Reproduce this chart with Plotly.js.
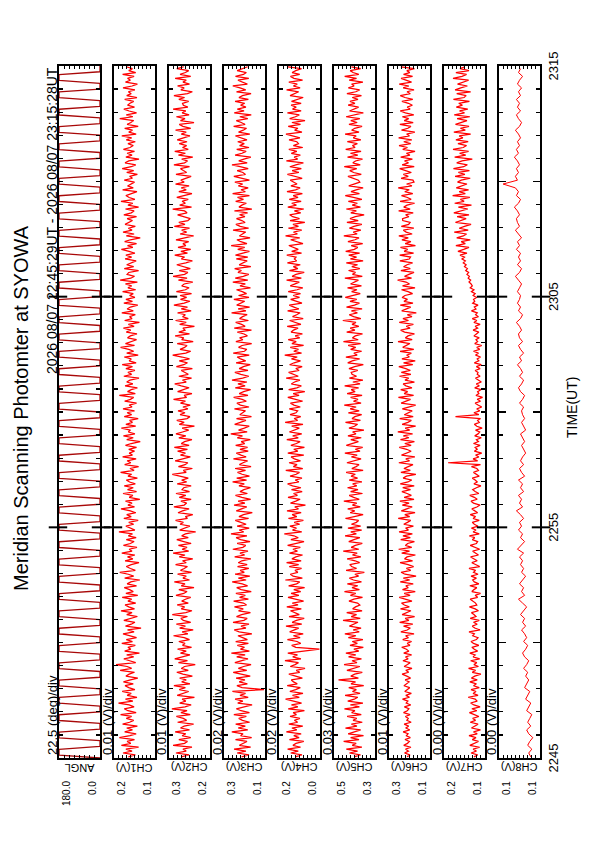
<!DOCTYPE html>
<html><head><meta charset="utf-8">
<script src="https://cdn.plot.ly/plotly-3.0.1.min.js"></script>
<style>
html,body{margin:0;padding:0;width:595px;height:842px;overflow:hidden;background:#fff;}
#wrap{position:absolute;left:0;top:0;width:595px;height:842px;overflow:hidden;}
#chart{position:absolute;left:0;top:0;width:842px;height:595px;transform-origin:0 0;transform:translate(0px,842px) rotate(-90deg);}
</style></head><body><div id="wrap"><div id="chart"></div></div>
<script>
// ---------- data ----------
const channelNames = ['ANGL','CH1(V)','CH2(V)','CH3(V)','CH4(V)','CH5(V)','CH6(V)','CH7(V)','CH8(V)'];
const scaleLabels = ['22.5 (deg)/div','0.01 (V)/div','0.01 (V)/div','0.02 (V)/div','0.02 (V)/div','0.03 (V)/div','0.01 (V)/div','0.00 (V)/div','0.00 (V)/div'];
const topLabels = ['180.0','0.2','0.3','0.3','0.2','0.5','0.3','0.2','0.1'];
const bottomLabels = ['0.0','0.1','0.2','0.1','0.0','0.3','0.1','0.1','0.1'];
// axis ranges: ANGL in degrees, channels in mV
const rangeMin = [0, 100, 200, 100, 0, 300, 100, 100, 100];
const rangeMax = [180, 200, 300, 300, 200, 500, 300, 200, 140];
const divisions = [8, 10, 10, 10, 10, 10, 10, 10, 10];
const timeTickVals = [0, 5, 10, 15, 20, 25, 30];
const timeTickText = ['2245', '', '2255', '', '2305', '', '2315'];
const titleText = 'Meridian Scanning Photomter at SYOWA';
const periodText = '2026 08/07 22:45:29UT - 2026 08/07 23:15:28UT';
const timeAxisTitle = 'TIME(UT)';

// scan angle (deg), one sample every 7.5 s: quick sweep, then hold at the end of the scan
const angl = [
0,180,180,180,0,0,0,180,180,180,0,0,
0,180,180,180,0,0,0,180,180,180,0,0,
0,180,180,180,0,0,0,180,180,180,0,0,
0,180,180,180,0,0,0,180,180,180,0,0,
0,180,180,180,0,0,0,180,180,180,0,0,
0,180,180,180,0,0,0,180,180,180,0,0,
0,180,180,180,0,0,0,180,180,180,0,0,
0,180,180,180,0,0,0,180,180,180,0,0,
0,180,180,180,0,0,0,180,180,180,0,0,
0,180,180,180,0,0,0,180,180,180,0,0,
0,180,180,180,0,0,0,180,180,180,0,0,
0,180,180,180,0,0,0,180,180,180,0,0,
0,180,180,180,0,0,0,180,180,180,0,0,
0,180,180,180,0,0,0,180,180,180,0,0,
0,180,180,180,0,0,0,180,180,180,0,0,
0,180,180,180,0,0,0,180,180,180,0,0,
0,180,180,180,0,0,0,180,180,180,0,0,
0,180,180,180,0,0,0,180,180,180,0,0,
0,180,180,180,0,0,0,180,180,180,0,0,
0,180,180,180,0,0,0,180,180,180,0,0,0];

// photometer channels (mV), one sample every 5 s
const ch1 = [
165,148,178,156,171,140,182,159,168,150,187,161,146,174,155,169,143,179,162,152,
170,157,184,146,166,175,151,163,189,154,172,144,168,158,180,149,164,173,153,177,
160,142,171,163,150,185,157,168,195,147,162,176,152,169,138,174,159,166,148,181,
155,170,145,163,178,151,167,134,172,158,149,176,161,143,169,156,183,150,164,173,
147,166,157,180,142,171,153,162,175,145,168,159,137,174,152,165,186,148,160,170,
158,139,173,154,167,149,181,156,163,144,177,160,151,170,146,165,155,188,149,162,
171,152,164,141,176,158,169,147,160,183,150,166,156,172,137,163,154,178,145,167,
153,175,148,162,170,143,166,157,184,151,161,140,174,159,168,146,179,155,163,150,
164,145,172,158,136,169,153,177,149,165,160,182,147,171,155,162,141,175,157,168,
150,178,156,163,145,174,160,152,187,148,167,158,143,173,154,169,161,139,176,157,
166,149,171,155,180,146,163,158,175,141,169,152,164,184,150,172,157,145,167,160,
144,170,159,177,151,165,138,174,156,162,148,181,153,168,160,142,176,155,171,149,
162,153,179,147,166,157,172,143,185,159,150,168,164,140,175,152,169,158,146,173,
157,171,149,163,182,154,167,145,174,160,136,170,151,178,156,165,148,173,162,155,
168,145,176,158,151,172,140,166,154,183,149,163,171,157,144,179,153,167,160,150,
175,155,162,143,169,152,180,158,147,173,164,139,171,156,168,150,177,161,153,166,
148,170,157,181,146,164,155,174,141,168,159,152,186,154,170,145,163,176,150,167,
161,152,174,144,169,158,165,149,178,156,143,172,160,167,151,179,147,164,155,170];

const ch2 = [
270,251,283,258,266,244,290,262,255,276,247,268,259,285,250,272,263,240,279,257,
265,282,248,271,256,293,261,246,274,259,268,238,280,264,252,275,260,288,249,269,
258,274,243,266,281,253,270,262,236,277,255,286,264,249,272,258,279,245,267,261,
276,250,263,289,254,268,241,274,260,282,247,265,271,255,292,259,244,270,262,280,
253,269,260,247,283,264,256,276,239,270,261,287,250,266,258,279,245,272,263,255,
284,258,267,242,275,261,290,252,268,256,277,246,264,281,253,269,260,235,274,262,
249,273,265,284,255,260,242,278,267,251,288,263,257,271,246,275,259,283,250,268,
264,246,280,257,269,253,274,292,258,265,243,277,261,254,285,266,248,272,260,279,
255,287,251,270,262,244,276,259,283,267,252,268,238,275,263,281,256,249,273,261,
278,254,266,248,272,260,289,257,263,244,279,265,251,270,286,258,267,245,276,253,
261,270,243,282,264,255,275,250,268,291,259,247,273,262,256,280,241,269,264,285,
250,276,261,266,238,274,258,284,253,267,260,279,246,270,255,288,263,249,272,257,
273,245,282,260,251,269,263,242,277,256,290,262,254,275,248,266,281,259,243,270,
262,286,255,271,247,278,259,266,252,283,264,240,273,257,269,250,287,261,276,254,
248,267,279,256,262,291,245,274,260,268,253,281,265,244,276,258,270,251,284,263,
271,259,246,283,257,265,272,250,288,262,255,269,242,277,260,286,253,267,257,275,
256,280,264,249,270,258,284,247,266,275,239,272,261,282,251,268,259,290,254,265,
267,252,276,262,288,255,243,271,263,279,250,266,258,285,247,273,260,252,281,264];

const ch3 = [
214,178,236,193,251,170,225,202,188,244,165,219,207,262,184,231,196,243,175,210,
228,191,252,176,217,240,199,163,233,208,246,182,222,195,259,105,212,237,186,226,
198,241,172,215,255,189,230,204,168,247,211,183,238,197,264,176,220,200,235,181,
243,186,209,232,164,226,250,193,217,178,256,203,187,239,214,171,229,206,249,190,
205,253,181,224,196,242,167,216,238,185,211,260,192,230,174,246,201,221,179,234,
187,230,213,169,248,199,222,183,257,208,194,236,173,219,241,188,266,204,226,177,
236,192,218,245,180,227,205,162,240,215,189,251,198,231,170,213,244,186,222,203,
171,227,201,258,190,238,176,212,234,195,246,168,225,207,185,254,192,217,240,182,
222,185,243,199,216,172,235,210,267,187,229,201,177,248,214,193,239,166,223,206,
195,249,178,220,237,191,211,253,183,226,204,170,245,197,232,188,261,209,179,218,
247,183,226,205,172,241,194,219,236,177,255,200,189,229,212,165,242,208,224,186,
202,235,166,250,197,214,243,181,224,209,187,263,193,231,175,238,216,199,252,178,
229,190,211,239,171,222,196,257,184,245,206,179,232,215,248,169,226,203,187,240,
184,244,203,176,233,199,265,188,218,237,173,225,210,194,256,180,221,242,197,213,
239,198,224,185,249,164,227,213,191,243,205,234,176,258,196,217,182,230,209,247,
176,219,252,195,208,236,182,221,261,187,228,203,169,246,212,192,238,178,224,201,
233,188,215,244,174,229,206,190,253,197,216,240,184,223,167,250,202,235,193,219,
199,246,181,227,210,168,239,194,222,257,186,214,232,179,244,205,191,236,213,185];

const ch4 = [
121,88,143,106,158,95,132,117,79,149,102,128,92,164,113,137,84,152,109,125,
98,146,115,131,76,155,108,139,90,124,168,101,134,83,147,119,96,160,111,129,
140,86,127,152,99,116,73,145,122,105,171,93,133,110,157,87,3,118,138,94,
112,159,97,130,82,148,123,104,166,89,136,115,77,151,101,126,144,91,162,107,
135,80,120,156,103,141,94,128,75,153,114,99,169,86,131,145,108,122,90,150,
104,163,92,137,118,85,149,110,132,96,158,121,78,142,106,127,174,89,134,115,
147,99,126,81,154,113,136,92,161,105,123,71,144,118,97,156,110,129,87,139,
93,134,158,103,121,88,146,116,100,167,84,130,112,151,95,125,141,79,157,108,
128,76,142,115,97,162,106,133,89,149,120,101,138,83,170,109,126,94,146,117,
109,150,96,127,144,85,119,157,102,131,74,153,113,91,140,124,98,165,106,135,
153,102,118,87,148,126,95,139,111,172,90,128,105,145,80,137,116,155,99,121,
86,141,129,107,160,93,122,148,82,134,114,97,158,103,127,150,88,119,143,100,
131,95,155,112,84,145,124,101,163,91,136,117,77,149,108,130,96,159,114,125,
117,162,90,138,106,127,152,83,120,143,99,168,110,129,89,154,105,132,74,146,
100,133,148,94,125,79,157,115,138,92,150,107,131,86,161,119,97,142,112,128,
145,87,122,159,103,136,91,147,118,81,164,109,126,96,140,113,152,84,130,105,
113,151,98,132,166,88,124,108,155,95,137,73,148,120,101,159,92,134,116,141,
92,139,115,82,146,121,104,163,97,130,111,152,85,127,144,99,136,118,90,156];

const ch5 = [
402,371,425,385,440,364,411,392,453,378,419,356,431,396,370,444,388,415,362,407,
389,436,367,414,398,449,376,420,359,433,401,384,446,373,410,391,428,355,417,395,
478,381,418,399,362,437,405,374,451,388,412,366,429,394,442,379,403,357,422,386,
411,359,430,393,447,377,406,368,425,400,383,456,372,416,390,438,363,409,395,374,
385,427,403,361,420,394,449,376,412,384,435,366,405,425,380,398,352,441,390,414,
423,375,397,436,369,410,387,455,379,416,396,362,428,403,374,446,391,418,365,432,
370,415,391,380,444,401,358,421,399,433,372,410,389,452,377,404,426,361,419,383,
434,389,409,364,426,385,417,396,441,358,413,392,378,437,402,368,415,387,447,373,
396,360,440,404,381,418,367,432,393,409,354,427,400,385,444,371,412,398,365,430,
377,421,392,450,368,405,383,419,363,436,397,416,380,448,373,408,359,425,390,412,
416,384,427,399,357,433,411,375,442,387,403,365,419,394,431,370,454,382,410,396,
361,438,398,421,379,412,393,457,369,404,426,386,415,363,439,400,376,422,389,445,
408,372,414,388,434,366,419,397,381,447,362,410,395,429,374,413,385,440,358,420,
390,428,375,443,401,384,416,360,432,398,378,452,387,406,369,425,403,364,437,382,
422,396,353,418,391,440,371,411,386,430,364,405,445,376,417,392,358,428,400,374,
381,413,432,367,404,423,389,450,372,408,395,361,434,384,420,368,443,397,410,386,
435,369,406,392,446,378,414,399,363,427,387,418,374,441,393,357,424,405,380,431,
398,422,383,411,366,437,394,375,430,402,414,359,426,390,448,379,407,421,370,415];

const ch6 = [
212,198,224,205,219,193,228,210,201,222,196,215,207,231,199,217,204,226,192,213,
206,220,197,229,211,203,225,194,216,208,234,200,218,191,223,209,199,227,214,202,
221,195,213,236,204,218,188,226,210,197,232,207,219,190,228,203,215,238,198,211,
190,233,205,219,178,242,211,196,229,184,248,203,221,175,236,209,193,244,201,225,
239,188,214,250,197,226,172,234,206,218,182,245,199,230,168,222,241,194,215,180,
207,246,185,224,212,171,238,200,253,189,220,209,176,243,196,232,186,251,205,219,
181,228,210,194,255,199,223,173,240,214,187,235,202,247,178,226,191,212,237,195,
233,177,245,208,189,231,215,169,242,196,227,206,183,252,200,218,174,239,211,192,
214,250,192,223,176,244,203,230,185,257,199,221,170,236,208,191,248,182,225,204,
187,235,206,170,241,213,195,254,180,226,209,243,188,217,231,176,222,204,249,193,
240,196,218,252,184,229,172,237,201,212,191,246,179,233,214,198,256,187,220,207,
176,224,243,197,216,181,250,205,232,188,211,167,238,219,194,245,183,227,210,236,
222,185,207,239,173,234,200,217,258,190,224,203,178,242,196,229,212,185,247,201,
195,248,180,226,209,244,171,221,193,237,206,252,187,216,230,179,240,204,197,233,
234,203,219,182,253,197,228,212,175,246,192,210,239,184,223,201,255,188,214,178,
183,241,206,230,191,219,248,177,236,205,224,186,243,198,215,173,233,210,251,194,
228,189,253,200,214,174,239,208,193,247,182,226,204,235,179,220,245,197,211,186,
205,237,184,222,245,196,212,178,231,203,250,190,217,241,185,229,199,213,176,242];

const ch7 = [
127,118,134,121,129,113,137,124,116,131,122,139,119,128,111,133,125,117,136,123,
130,115,126,138,120,132,112,127,135,119,124,141,117,129,122,134,114,128,121,137,
119,133,125,110,131,123,140,116,127,120,135,113,129,124,137,118,126,132,115,128,
134,121,117,130,126,139,112,125,131,119,128,114,136,122,127,133,116,124,138,120,
123,129,136,118,124,111,132,127,120,137,115,126,130,121,134,117,128,123,139,113,
125,132,119,128,135,116,124,130,113,127,136,121,118,131,125,138,114,129,122,133,
117,126,131,114,129,123,136,118,125,132,120,112,128,134,119,126,137,115,124,130,
121,110,127,119,124,131,114,122,128,116,120,133,111,190,118,129,115,123,108,126,
119,124,112,128,116,121,109,125,117,113,123,107,120,126,114,118,111,172,115,127,
113,120,108,117,124,111,119,106,122,115,118,110,125,114,121,109,116,123,112,119,
117,124,112,121,109,126,115,119,111,123,116,128,113,120,108,125,118,122,114,127,
121,115,129,118,124,112,127,120,131,116,123,119,133,122,126,117,130,125,128,121,
129,124,133,127,136,131,134,139,135,141,138,144,140,147,143,150,146,153,148,156,
150,161,144,166,152,139,171,148,158,136,169,153,145,175,141,163,150,134,172,157,
146,168,139,176,155,142,165,133,174,151,160,137,179,148,163,140,170,154,144,167,
158,136,173,149,165,138,177,152,143,169,156,131,174,147,162,140,178,153,145,166,
141,171,154,163,135,176,148,160,139,172,157,144,168,137,175,150,162,142,170,155,
164,138,177,151,146,169,135,173,159,143,167,152,140,178,156,145,171,139,161,149];

// CH8 (mV), one sample every 10 s
const ch8 = [
109,111,108,112,110,107,111,113,109,112,110,108,113,111,109,114,112,110,115,113,
111,114,112,116,113,111,115,117,114,112,116,113,115,118,114,117,115,119,116,113,
117,121,115,118,116,120,117,114,118,116,119,117,120,116,122,118,115,119,117,121,
118,120,116,119,123,117,120,118,121,116,119,117,121,115,118,120,116,119,117,114,
116,118,115,117,119,114,116,118,115,117,118,116,120,117,115,119,121,118,116,120,
117,119,122,118,120,116,119,121,117,120,121,118,120,123,119,117,121,119,122,120,
119,122,120,118,121,124,120,118,122,119,121,119,123,120,122,118,121,124,120,122,
123,120,122,125,121,119,123,121,124,136,122,124,121,123,120,122,125,121,123,120,
122,119,121,124,120,118,121,123,119,122,120,123,119,121,118,122,120,117,121,119];

const series = [angl, ch1, ch2, ch3, ch4, ch5, ch6, ch7, ch8];
const seriesStart = [0, 0.05, 0.05, 0.05, 0.05, 0.05, 0.05, 0.05, 0.05];      // minutes after 22:45
const seriesStep = [1/8, 1/12, 1/12, 1/12, 1/12, 1/12, 1/12, 1/12, 1/6];      // minutes per sample
const majorMarkTimes = [10, 20];

// ---------- layout (landscape, rotated by CSS) ----------
const W = 842, H = 595;
const FONT = 'Liberation Sans, Arial, Helvetica, sans-serif';
const plotL = 84, plotR = 776;
const panelTop0 = 59, panelPitch = 55, panelH = 41;
const px = X => X / W;
const py = Y => 1 - Y / H;

const traces = [];
const layout = {
  width: W, height: H,
  margin: {l: 0, r: 0, t: 0, b: 0},
  paper_bgcolor: '#ffffff', plot_bgcolor: '#ffffff',
  showlegend: false,
  font: {family: FONT, color: '#000', size: 12},
  annotations: [], shapes: []
};

for (let i = 0; i < 9; i++) {
  const n = i + 1;
  const xa = n === 1 ? 'x' : 'x' + n;
  const ya = n === 1 ? 'y' : 'y' + n;
  const top = panelTop0 + panelPitch * i;
  const bot = top + panelH;
  traces.push({
    type: 'scatter', mode: 'lines',
    x0: seriesStart[i], dx: seriesStep[i], y: series[i],
    xaxis: xa, yaxis: ya,
    line: {color: i === 0 ? '#a80808' : '#ff0000', width: i === 0 ? 1.3 : (i === 8 ? 1 : 1.25)},
    hoverinfo: 'skip'
  });
  const xax = {
    domain: [px(plotL), px(plotR)], anchor: ya,
    range: [0, 30],
    showline: true, linecolor: '#000', linewidth: 2, mirror: 'ticks',
    ticks: 'inside', ticklen: 7, tickwidth: 1.5, tickcolor: '#000',
    tickmode: 'array', tickvals: timeTickVals, ticktext: timeTickText,
    showticklabels: i === 8,
    tickfont: {family: FONT, size: 13, color: '#000'},
    minor: {dtick: 1, tick0: 0, ticks: 'inside', ticklen: 4, tickwidth: 1.2, tickcolor: '#000', showgrid: false},
    showgrid: false, zeroline: false, fixedrange: true
  };
  if (n > 1) xax.matches = 'x';
  layout[n === 1 ? 'xaxis' : 'xaxis' + n] = xax;
  layout[n === 1 ? 'yaxis' : 'yaxis' + n] = {
    domain: [py(bot), py(top)], anchor: xa,
    range: [rangeMin[i], rangeMax[i]],
    showline: true, linecolor: '#000', linewidth: 2, mirror: 'ticks',
    ticks: 'inside', ticklen: 3, tickwidth: 1, tickcolor: '#000',
    tickmode: 'linear', tick0: rangeMin[i], dtick: (rangeMax[i] - rangeMin[i]) / divisions[i],
    showticklabels: false, showgrid: false, zeroline: false, fixedrange: true
  };
  layout.annotations.push({xref: 'paper', yref: 'paper', x: px(plotL + 1), y: py(top - 7),
    xanchor: 'left', yanchor: 'middle', showarrow: false, text: scaleLabels[i],
    font: {family: FONT, size: 13, color: '#000'}});
  layout.annotations.push({xref: 'paper', yref: 'paper', x: px(75), y: py((top + bot) / 2),
    xanchor: 'center', yanchor: 'middle', showarrow: false, text: channelNames[i], textangle: -90,
    font: {family: FONT, size: 11, color: '#000'}});
  layout.annotations.push({xref: 'paper', yref: 'paper', x: px(63), y: py(top),
    xanchor: 'right', yanchor: 'top', showarrow: false, text: topLabels[i],
    font: {family: FONT, size: 10, color: '#000'}});
  layout.annotations.push({xref: 'paper', yref: 'paper', x: px(63), y: py(bot),
    xanchor: 'right', yanchor: 'bottom', showarrow: false, text: bottomLabels[i],
    font: {family: FONT, size: 10, color: '#000'}});
  majorMarkTimes.forEach(t => {
    [[-0.25, 0.2], [0.8, 1.25]].forEach(([a, b]) => {
      layout.shapes.push({type: 'line', xref: xa, yref: ya + ' domain', x0: t, x1: t, y0: a, y1: b,
        line: {color: '#000', width: 2}});
    });
  });
}

layout.annotations.push({xref: 'paper', yref: 'paper', x: px(434), y: py(21),
  xanchor: 'center', yanchor: 'middle', showarrow: false, text: titleText,
  font: {family: FONT, size: 20, color: '#000'}});
layout.annotations.push({xref: 'paper', yref: 'paper', x: px(777), y: py(52),
  xanchor: 'right', yanchor: 'middle', showarrow: false, text: periodText,
  font: {family: FONT, size: 14, color: '#000'}});
layout.annotations.push({xref: 'paper', yref: 'paper', x: px(434), y: py(572),
  xanchor: 'center', yanchor: 'middle', showarrow: false, text: timeAxisTitle,
  font: {family: FONT, size: 14, color: '#000'}});

Plotly.newPlot('chart', traces, layout, {staticPlot: true, displayModeBar: false});
</script></body></html>
